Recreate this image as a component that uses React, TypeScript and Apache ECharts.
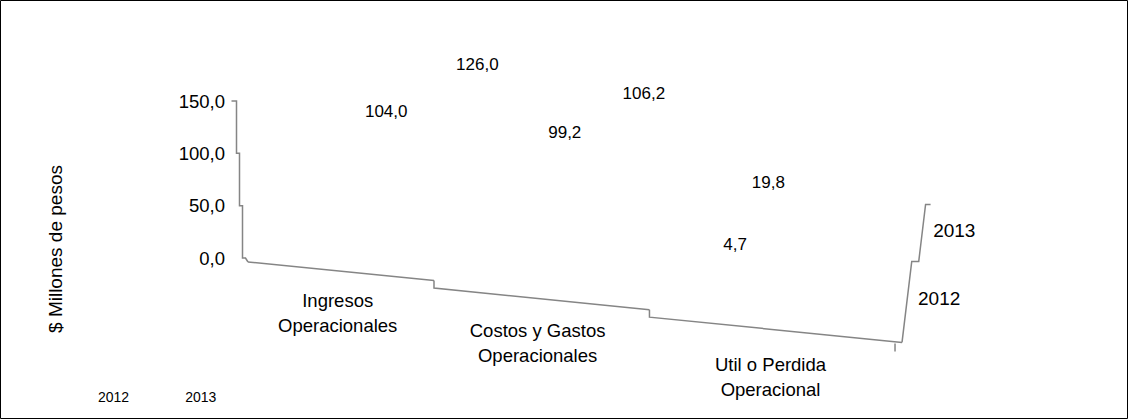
import React, { useEffect, useRef } from "react";
import * as echarts from "echarts";

// ---- data ----
const CATEGORIES = ["Ingresos\nOperacionales", "Costos y Gastos\nOperacionales", "Util o Perdida\nOperacional"];
const SERIES_NAMES = ["2012", "2013"];
const VALUES_2012 = [104.0, 99.2, 4.7];
const VALUES_2013 = [126.0, 106.2, 19.8];
const VALUE_TICKS = [0, 50, 100, 150];
const Y_TITLE = "$ Millones de pesos";

// ---- styles / projection parameters ----
const FONT = "'Liberation Sans', Arial, sans-serif";
const LINE = "#858585";

// oblique depth projection used for the value labels
const LABEL_PROJ = {
  shiftX: 34.6, depthX: 42.4,
  leanX0: -0.17, leanXDepth: 1.03,
  shiftY: -34.5, depthY: -66.2,
  slopeY0: 20.2, slopeYDepth: -12.4,
  scaleY0: 1.003, scaleYDepth: -0.172,
};

// perspective frame (floor edge, depth axis, value axis line)
const FRAME = {
  startDx: 6, startDy: 4,
  bandScale: 0.968, persp: 0.0684,
  floorSlope: 0.1, catStep: 7.5,
  valueTopDx: -5.5, valueStepX: 3, tickLen: 5,
  depthLen: 196.1, depthPersp: 0.421, depthLean: 0.12, depthStep: 7,
  cornerTickDx: -7, cornerTickLen: 8,
  catLabelGap: 29, catLineHeight: 25,
  depthLabelGap: 10.7,
};

const fmt = (v: number) => v.toFixed(1).replace(".", ",");

function frameGeom(api: any) {
  const band = api.size([1, 0])[0];
  const zero = api.coord([0, 0]);
  const left = zero[0] - band / 2;
  const yZero = zero[1];
  const x0 = left + FRAME.startDx;
  const y0 = yZero + FRAME.startDy;
  const a = FRAME.bandScale * band;
  const X = (u: number) => x0 + (a * u) / (1 - FRAME.persp * u);
  const Y = (u: number, level: number) => y0 + FRAME.floorSlope * (X(u) - x0) + FRAME.catStep * level;
  return { band, left, yZero, x0, y0, X, Y };
}

function renderFrame(params: any, api: any) {
  const i = api.value(0);
  const n = CATEGORIES.length;
  const g = frameGeom(api);
  const children: any[] = [];
  const lineStyle = { stroke: LINE, lineWidth: 1.5, fill: null };

  // floor edge segment for this category (with step at its start)
  const seg: number[][] = [];
  if (i > 0) seg.push([g.X(i), g.Y(i, i - 1)]);
  seg.push([g.X(i), g.Y(i, i)]);
  seg.push([g.X(i + 1), g.Y(i + 1, i)]);
  children.push({ type: "polyline", shape: { points: seg }, style: lineStyle });

  // category label
  const uc = i + 0.5;
  const s = 1 / (1 - FRAME.persp * uc);
  const cy = g.Y(uc, i) + FRAME.catLabelGap * s;
  children.push({
    type: "text",
    style: {
      text: CATEGORIES[i],
      x: g.X(uc),
      y: cy - FRAME.catLineHeight / 2,
      align: "center",
      verticalAlign: "top",
      lineHeight: FRAME.catLineHeight,
      fontSize: 18.5,
      fontFamily: FONT,
      fill: "#000",
    },
  });

  if (i === 0) {
    // value axis line with tick steps
    const ticks = [...VALUE_TICKS].sort((p, q) => q - p);
    const pts: number[][] = [];
    const xTop = g.left + FRAME.valueTopDx;
    ticks.forEach((t, k) => {
      const y = api.coord([0, t])[1];
      const x = xTop + FRAME.valueStepX * k;
      if (k === 0) pts.push([x - FRAME.tickLen, y]);
      else pts.push([x - FRAME.valueStepX, y]);
      pts.push([x, y]);
    });
    pts.push([g.x0, g.y0]);
    children.push({ type: "polyline", shape: { points: pts }, style: lineStyle });
  }

  if (i === n - 1) {
    // corner tick
    const cx = g.X(n);
    const cyy = g.Y(n, n - 1);
    children.push({
      type: "line",
      shape: { x1: cx + FRAME.cornerTickDx, y1: cyy + 1, x2: cx + FRAME.cornerTickDx, y2: cyy + 1 + FRAME.cornerTickLen },
      style: lineStyle,
    });
    // depth (series) axis
    const m = SERIES_NAMES.length;
    const off = (w: number) => (FRAME.depthLen * w) / (1 + FRAME.depthPersp * w);
    const depthPt = (w: number, steps: number) => [cx + FRAME.depthLean * off(w) + FRAME.depthStep * steps, cyy - off(w)];
    const dpts: number[][] = [[cx, cyy]];
    for (let j = 1; j <= m; j++) {
      const w = j / m;
      dpts.push(depthPt(w, j - 1));
      const last = dpts[dpts.length - 1];
      dpts.push([last[0] + (j < m ? FRAME.depthStep : FRAME.tickLen), last[1]]);
    }
    children.push({ type: "polyline", shape: { points: dpts }, style: lineStyle });
    SERIES_NAMES.forEach((name, sIdx) => {
      const w = (sIdx + 0.5) / m;
      const p = depthPt(w, Math.floor(w * m));
      children.push({
        type: "text",
        style: {
          text: name,
          x: p[0] + FRAME.depthLabelGap,
          y: p[1],
          align: "left",
          verticalAlign: "middle",
          fontSize: 19,
          fontFamily: FONT,
          fill: "#000",
        },
      });
    });
  }
  return { type: "group", children };
}

function labelRenderer(depthIndex: number) {
  return (params: any, api: any) => {
    const cat = api.value(0);
    const v = api.value(1);
    const base = api.coord([cat, 0]);
    const top = api.coord([cat, v]);
    const h = base[1] - top[1];
    const u = cat + 0.5;
    const w = (depthIndex + 0.5) / SERIES_NAMES.length;
    const P = LABEL_PROJ;
    const x = base[0] + P.shiftX + P.depthX * w + (P.leanX0 + P.leanXDepth * w) * h;
    const y = base[1] + P.shiftY + P.depthY * w + (P.slopeY0 + P.slopeYDepth * w) * u - (P.scaleY0 + P.scaleYDepth * w) * h;
    return {
      type: "text",
      style: { text: fmt(v), x, y, align: "center", verticalAlign: "middle", fontSize: 17, fontFamily: FONT, fill: "#000" },
    };
  };
}

export default function App() {
  const ref = useRef<HTMLDivElement>(null);
  useEffect(() => {
    if (!ref.current) return;
    const chart = echarts.init(ref.current, undefined, { renderer: "svg" });
    const seriesValues = [VALUES_2012, VALUES_2013];
    chart.setOption({
      animation: false,
      backgroundColor: "#fff",
      textStyle: { fontFamily: FONT },
      grid: { left: 242, top: 101, width: 537, height: 157, containLabel: false },
      xAxis: { type: "category", data: CATEGORIES, show: false },
      yAxis: {
        type: "value",
        min: 0,
        max: 150,
        interval: 50,
        axisLine: { show: false },
        axisTick: { show: false },
        splitLine: { show: false },
        axisLabel: { formatter: (v: number) => fmt(v), fontSize: 18.5, color: "#000", margin: 17, fontFamily: FONT },
      },
      legend: {
        data: SERIES_NAMES,
        left: 74,
        top: 385,
        itemWidth: 14,
        itemHeight: 14,
        itemGap: 37,
        icon: "rect",
        itemStyle: { opacity: 0 },
        textStyle: { fontSize: 14, color: "#000", fontFamily: FONT },
      },
      graphic: [
        { type: "rect", shape: { x: 0.5, y: 0.5, width: 1127, height: 418 }, style: { stroke: "#000", fill: null, lineWidth: 1 }, silent: true },
        {
          type: "text",
          x: 55.6,
          y: 249,
          rotation: Math.PI / 2,
          style: { text: Y_TITLE, fontSize: 19, fontFamily: FONT, fill: "#000", align: "center", verticalAlign: "middle" },
        },
      ],
      series: [
        {
          type: "custom",
          name: "frame",
          clip: false,
          silent: true,
          renderItem: renderFrame,
          encode: { x: 0, y: 1 },
          data: CATEGORIES.map((_, i) => [i, 0]),
        },
        ...SERIES_NAMES.map((name, sIdx) => ({
          type: "custom",
          name,
          clip: false,
          itemStyle: { color: "rgba(0,0,0,0)" },
          renderItem: labelRenderer(sIdx),
          encode: { x: 0, y: 1 },
          data: seriesValues[sIdx].map((v, i) => [i, v]),
        })),
      ],
    });
    return () => chart.dispose();
  }, []);
  return <div ref={ref} style={{ position: "absolute", left: 0, top: 0, width: 1128, height: 419 }} />;
}
